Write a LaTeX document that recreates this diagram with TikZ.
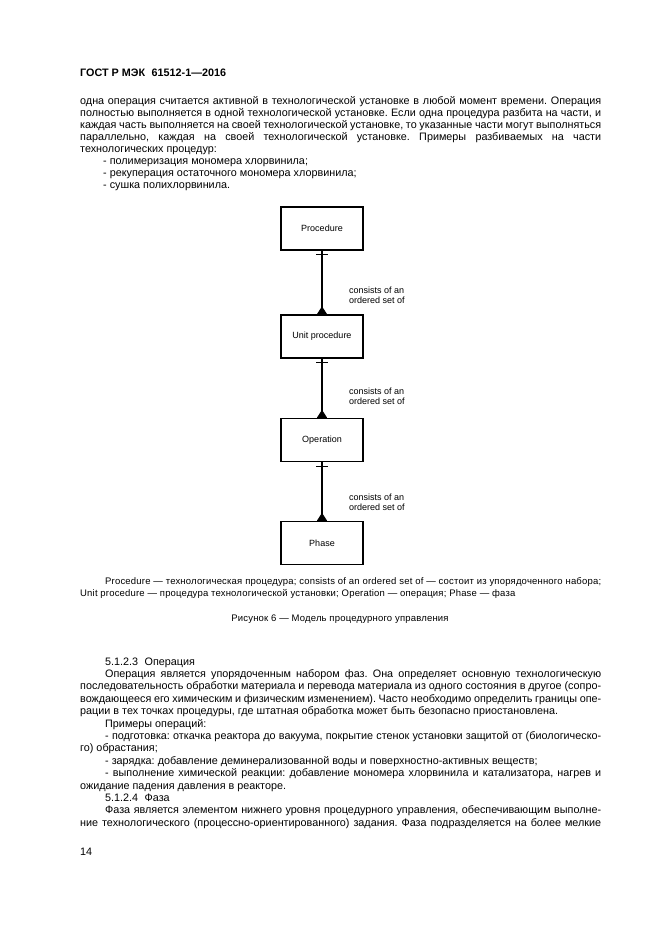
\documentclass[tikz,border=0pt]{standalone}
\usepackage{fontspec}
\setmainfont{Liberation Sans}
\newfontfamily\capfont[LetterSpace=2]{Liberation Sans}
\tolerance=10000
\hbadness=10000
\hyphenpenalty=10000
\frenchspacing

\begin{document}
\begin{tikzpicture}[x=1pt,y=-1pt,
  box/.style={draw, line width=1.5pt, minimum width=82pt, minimum height=43pt, inner sep=0pt, font=\fontsize{9}{9.5}\selectfont},
  link/.style={line width=1.2pt},
  foot/.style={line width=1pt, fill=black, line join=round},
  note/.style={anchor=west, align=left, inner sep=0pt, font=\fontsize{9}{9.8}\selectfont},
  body/.style={anchor=base west, inner sep=0pt, text width=521pt, align=justify}]
\fill[white] (0,0) rectangle (661,936);
\useasboundingbox (0,0) rectangle (661,936);
% page head
\node[anchor=base west, inner sep=0pt, font=\bfseries\fontsize{10.8}{12}\selectfont] (head) at (80,77) {ГОСТ Р МЭК\hspace{0.6em}61512-1—2016};
\node[body, font=\fontsize{10.8}{11.9}\selectfont] (intro) at (80,105) {одна операция считается активной в технологической установке в любой момент времени. Операция\linebreak
полностью выполняется в одной технологической установке. Если одна процедура разбита на части, и\linebreak
каждая часть выполняется на своей технологической установке, то указанные части могут выполняться\linebreak
параллельно, каждая на своей технологической установке. Примеры разбиваемых на части\linebreak
технологических процедур:\par
\hspace*{23pt}- полимеризация мономера хлорвинила;\par
\hspace*{23pt}- рекуперация остаточного мономера хлорвинила;\par
\hspace*{23pt}- сушка полихлорвинила.};
% model
\node[box] (proc) at (322,228.5) {Procedure};
\node[box] (unit) at (322,336.5) {Unit procedure};
\node[box] (oper) at (322,440) {Operation};
\node[box] (phase) at (322,543) {Phase};
\draw[link] (proc) -- (unit);
\draw[link] (unit) -- (oper);
\draw[link] (oper) -- (phase);
\draw[link] ([xshift=-6pt,yshift=-4pt]proc.south) -- ([xshift=6pt,yshift=-4pt]proc.south);
\draw[link] ([xshift=-6pt,yshift=-4pt]unit.south) -- ([xshift=6pt,yshift=-4pt]unit.south);
\draw[link] ([xshift=-6pt,yshift=-4pt]oper.south) -- ([xshift=6pt,yshift=-4pt]oper.south);
\filldraw[foot] ([xshift=-4.5pt]unit.north) -- ([yshift=7pt]unit.north) -- ([xshift=4.5pt]unit.north) -- cycle;
\filldraw[foot] ([xshift=-4.5pt]oper.north) -- ([yshift=7pt]oper.north) -- ([xshift=4.5pt]oper.north) -- cycle;
\filldraw[foot] ([xshift=-4.5pt]phase.north) -- ([yshift=7pt]phase.north) -- ([xshift=4.5pt]phase.north) -- cycle;
\node[note] (rel1) at (349,295.5) {consists of an\\ordered set of};
\node[note] (rel2) at (349,396) {consists of an\\ordered set of};
\node[note] (rel3) at (349,502.5) {consists of an\\ordered set of};
% captions
\node[body, font=\capfont\fontsize{9.5}{12}\selectfont] (legend) at (80,584) {\hspace*{25pt}Procedure — технологическая процедура; consists of an ordered set of — состоит из упорядоченного набора;\linebreak
Unit procedure — процедура технологической установки; Operation — операция; Phase — фаза};
\node[anchor=base, inner sep=0pt, font=\capfont\fontsize{9.5}{12}\selectfont] (figcap) at (340,621) {Рисунок 6 — Модель процедурного управления};
% next clauses
\node[body, font=\fontsize{10.8}{12.4}\selectfont] (clause) at (80,665) {\hspace*{25pt}5.1.2.3\hspace{0.6em}Операция\par
\hspace*{25pt}Операция является упорядоченным набором фаз. Она определяет основную технологическую\linebreak
последовательность обработки материала и перевода материала из одного состояния в другое (сопро-\linebreak
вождающееся его химическим и физическим изменением). Часто необходимо определить границы опе-\linebreak
рации в тех точках процедуры, где штатная обработка может быть безопасно приостановлена.\par
\hspace*{25pt}Примеры операций:\par
\hspace*{25pt}- подготовка: откачка реактора до вакуума, покрытие стенок установки защитой от (биологическо-\linebreak
го) обрастания;\par
\hspace*{25pt}- зарядка: добавление деминерализованной воды и поверхностно-активных веществ;\par
\hspace*{25pt}- выполнение химической реакции: добавление мономера хлорвинила и катализатора, нагрев и\linebreak
ожидание падения давления в реакторе.\par
\hspace*{25pt}5.1.2.4\hspace{0.6em}Фаза\par
\hspace*{25pt}Фаза является элементом нижнего уровня процедурного управления, обеспечивающим выполне-\linebreak
ние технологического (процессно-ориентированного) задания. Фаза подразделяется на более мелкие\parfillskip=0pt\par};
\node[anchor=base west, inner sep=0pt, font=\fontsize{10.8}{12}\selectfont] (pagenum) at (80,855) {14};
\end{tikzpicture}
\end{document}
